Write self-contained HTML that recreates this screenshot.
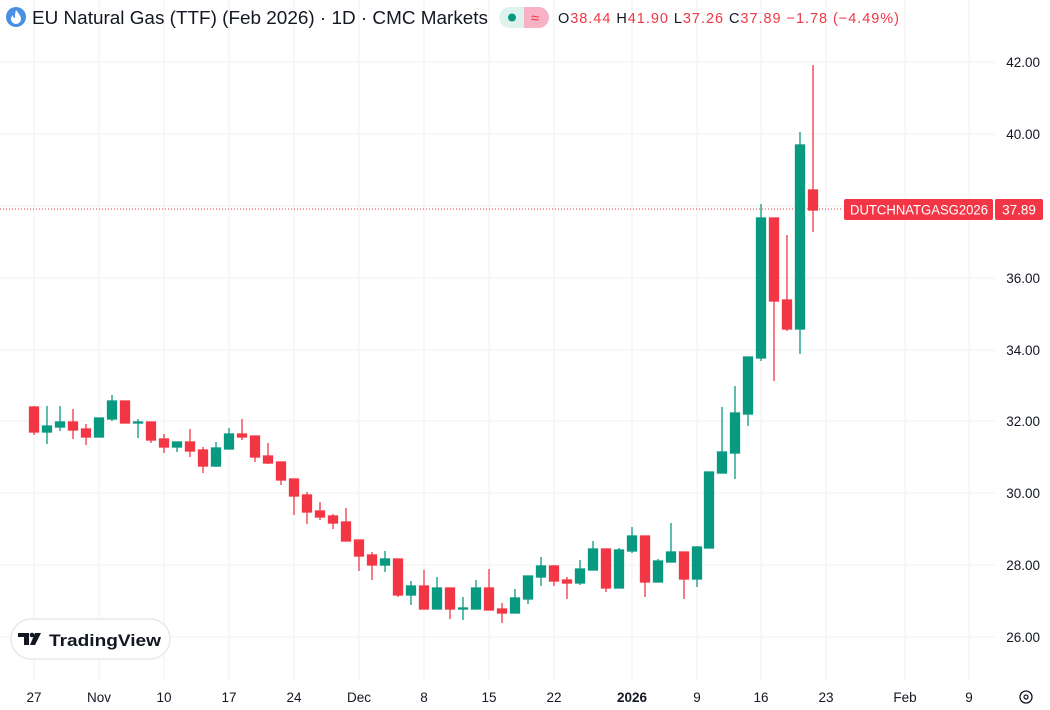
<!DOCTYPE html>
<html><head><meta charset="utf-8"><style>
body{margin:0;width:1050px;height:710px;background:#fff;overflow:hidden;font-family:"Liberation Sans",sans-serif}
svg{position:absolute;left:0;top:0}
</style></head><body>
<svg width="1050" height="710" xmlns="http://www.w3.org/2000/svg" font-family="Liberation Sans, sans-serif">
<g stroke="#f0f0f0" stroke-width="1">
<line x1="0" x2="995" y1="62" y2="62"/><line x1="0" x2="995" y1="134" y2="134"/><line x1="0" x2="995" y1="206" y2="206"/><line x1="0" x2="995" y1="278" y2="278"/><line x1="0" x2="995" y1="350" y2="350"/><line x1="0" x2="995" y1="421" y2="421"/><line x1="0" x2="995" y1="493" y2="493"/><line x1="0" x2="995" y1="565" y2="565"/><line x1="0" x2="995" y1="637" y2="637"/>
<line x1="34" x2="34" y1="0" y2="680"/><line x1="99" x2="99" y1="0" y2="680"/><line x1="164" x2="164" y1="0" y2="680"/><line x1="229" x2="229" y1="0" y2="680"/><line x1="294" x2="294" y1="0" y2="680"/><line x1="359" x2="359" y1="0" y2="680"/><line x1="424" x2="424" y1="0" y2="680"/><line x1="489" x2="489" y1="0" y2="680"/><line x1="554" x2="554" y1="0" y2="680"/><line x1="632" x2="632" y1="0" y2="680"/><line x1="697" x2="697" y1="0" y2="680"/><line x1="761" x2="761" y1="0" y2="680"/><line x1="826" x2="826" y1="0" y2="680"/><line x1="905" x2="905" y1="0" y2="680"/><line x1="969" x2="969" y1="0" y2="680"/>
</g>
<line x1="0" x2="843" y1="209" y2="209" stroke="#F23645" stroke-dasharray="1,2"/>
<g stroke-width="1.3">
<g stroke="#F23645" fill="#F23645">
<line x1="34" x2="34" y1="406" y2="435"/><rect x="29.5" width="9" y="407" height="25"/>
<line x1="73" x2="73" y1="409" y2="439"/><rect x="68.5" width="9" y="422" height="8"/>
<line x1="86" x2="86" y1="424" y2="445"/><rect x="81.5" width="9" y="429" height="8"/>
<rect x="120.5" width="9" y="401" height="22"/>
<line x1="151" x2="151" y1="422" y2="443"/><rect x="146.5" width="9" y="422" height="18"/>
<line x1="164" x2="164" y1="434" y2="453"/><rect x="159.5" width="9" y="439" height="8"/>
<line x1="190" x2="190" y1="429" y2="457"/><rect x="185.5" width="9" y="442" height="9"/>
<line x1="203" x2="203" y1="447" y2="473"/><rect x="198.5" width="9" y="450" height="16"/>
<line x1="242" x2="242" y1="419" y2="440"/><rect x="237.5" width="9" y="434" height="3"/>
<line x1="255" x2="255" y1="436" y2="462"/><rect x="250.5" width="9" y="436" height="21"/>
<line x1="268" x2="268" y1="443" y2="464"/><rect x="263.5" width="9" y="456" height="7"/>
<line x1="281" x2="281" y1="462" y2="485"/><rect x="276.5" width="9" y="462" height="18"/>
<line x1="294" x2="294" y1="479" y2="515"/><rect x="289.5" width="9" y="479" height="17"/>
<line x1="307" x2="307" y1="492" y2="524"/><rect x="302.5" width="9" y="495" height="17"/>
<line x1="320" x2="320" y1="502" y2="520"/><rect x="315.5" width="9" y="511" height="6"/>
<line x1="333" x2="333" y1="514" y2="529"/><rect x="328.5" width="9" y="516" height="7"/>
<line x1="346" x2="346" y1="508" y2="541"/><rect x="341.5" width="9" y="522" height="19"/>
<line x1="359" x2="359" y1="540" y2="571"/><rect x="354.5" width="9" y="540" height="16"/>
<line x1="372" x2="372" y1="552" y2="580"/><rect x="367.5" width="9" y="555" height="10"/>
<line x1="398" x2="398" y1="559" y2="597"/><rect x="393.5" width="9" y="559" height="36"/>
<line x1="424" x2="424" y1="570" y2="609"/><rect x="419.5" width="9" y="586" height="23"/>
<line x1="450" x2="450" y1="588" y2="619"/><rect x="445.5" width="9" y="588" height="21"/>
<line x1="489" x2="489" y1="569" y2="610"/><rect x="484.5" width="9" y="588" height="22"/>
<line x1="502" x2="502" y1="603" y2="623"/><rect x="497.5" width="9" y="609" height="4"/>
<line x1="554" x2="554" y1="565" y2="586"/><rect x="549.5" width="9" y="566" height="15"/>
<line x1="567" x2="567" y1="577" y2="599"/><rect x="562.5" width="9" y="580" height="3"/>
<line x1="606" x2="606" y1="549" y2="592"/><rect x="601.5" width="9" y="549" height="39"/>
<line x1="645" x2="645" y1="536" y2="597"/><rect x="640.5" width="9" y="536" height="46"/>
<line x1="684" x2="684" y1="552" y2="599"/><rect x="679.5" width="9" y="552" height="27"/>
<line x1="774" x2="774" y1="218" y2="381"/><rect x="769.5" width="9" y="218" height="83"/>
<line x1="787" x2="787" y1="235" y2="331"/><rect x="782.5" width="9" y="300" height="29"/>
<line x1="813" x2="813" y1="65" y2="232"/><rect x="808.5" width="9" y="190" height="20"/>
</g>
<g stroke="#089981" fill="#089981">
<line x1="47" x2="47" y1="406" y2="444"/><rect x="42.5" width="9" y="426" height="6"/>
<line x1="60" x2="60" y1="406" y2="431"/><rect x="55.5" width="9" y="422" height="5"/>
<rect x="94.5" width="9" y="418" height="19"/>
<line x1="112" x2="112" y1="395" y2="421"/><rect x="107.5" width="9" y="401" height="18"/>
<line x1="138" x2="138" y1="419" y2="438"/><rect x="133.5" width="9" y="422" height="1"/>
<line x1="177" x2="177" y1="442" y2="452"/><rect x="172.5" width="9" y="442" height="5"/>
<line x1="216" x2="216" y1="442" y2="467"/><rect x="211.5" width="9" y="448" height="18"/>
<line x1="229" x2="229" y1="428" y2="449"/><rect x="224.5" width="9" y="434" height="15"/>
<line x1="385" x2="385" y1="551" y2="572"/><rect x="380.5" width="9" y="559" height="6"/>
<line x1="411" x2="411" y1="581" y2="605"/><rect x="406.5" width="9" y="586" height="9"/>
<line x1="437" x2="437" y1="577" y2="609"/><rect x="432.5" width="9" y="588" height="21"/>
<line x1="463" x2="463" y1="597" y2="620"/><rect x="458.5" width="9" y="608" height="1"/>
<line x1="476" x2="476" y1="580" y2="609"/><rect x="471.5" width="9" y="588" height="21"/>
<line x1="515" x2="515" y1="589" y2="613"/><rect x="510.5" width="9" y="598" height="15"/>
<line x1="528" x2="528" y1="576" y2="604"/><rect x="523.5" width="9" y="576" height="23"/>
<line x1="541" x2="541" y1="557" y2="586"/><rect x="536.5" width="9" y="566" height="11"/>
<line x1="580" x2="580" y1="560" y2="585"/><rect x="575.5" width="9" y="569" height="14"/>
<line x1="593" x2="593" y1="541" y2="570"/><rect x="588.5" width="9" y="549" height="21"/>
<line x1="619" x2="619" y1="548" y2="588"/><rect x="614.5" width="9" y="550" height="38"/>
<line x1="632" x2="632" y1="527" y2="553"/><rect x="627.5" width="9" y="536" height="15"/>
<line x1="658" x2="658" y1="559" y2="582"/><rect x="653.5" width="9" y="561" height="21"/>
<line x1="671" x2="671" y1="523" y2="562"/><rect x="666.5" width="9" y="552" height="10"/>
<line x1="697" x2="697" y1="546" y2="587"/><rect x="692.5" width="9" y="547" height="32"/>
<rect x="704.5" width="9" y="472" height="76"/>
<line x1="722" x2="722" y1="407" y2="473"/><rect x="717.5" width="9" y="452" height="21"/>
<line x1="735" x2="735" y1="386" y2="479"/><rect x="730.5" width="9" y="413" height="40"/>
<line x1="748" x2="748" y1="357" y2="426"/><rect x="743.5" width="9" y="357" height="57"/>
<line x1="761" x2="761" y1="204" y2="361"/><rect x="756.5" width="9" y="218" height="140"/>
<line x1="800" x2="800" y1="132" y2="354"/><rect x="795.5" width="9" y="145" height="184"/>
</g>
</g>
<g font-size="13.5" fill="#131722" text-anchor="end">
<text x="1040" y="67">42.00</text><text x="1040" y="139">40.00</text><text x="1040" y="283">36.00</text><text x="1040" y="355">34.00</text><text x="1040" y="426">32.00</text><text x="1040" y="498">30.00</text><text x="1040" y="570">28.00</text><text x="1040" y="642">26.00</text>
</g>
<rect x="844" y="199" width="149" height="21" rx="2" fill="#F23645"/>
<rect x="995" y="199" width="48" height="21" rx="2" fill="#F23645"/>
<text x="850" y="214.5" font-size="13.5" fill="#fff" textLength="138" lengthAdjust="spacingAndGlyphs">DUTCHNATGASG2026</text>
<text x="1019" y="214.5" font-size="13.5" fill="#fff" text-anchor="middle">37.89</text>
<g font-size="13.5" fill="#131722" text-anchor="middle">
<text x="34" y="702">27</text><text x="99" y="702">Nov</text><text x="164" y="702">10</text><text x="229" y="702">17</text><text x="294" y="702">24</text><text x="359" y="702">Dec</text><text x="424" y="702">8</text><text x="489" y="702">15</text><text x="554" y="702">22</text><text x="632" y="702" font-weight="bold">2026</text><text x="697" y="702">9</text><text x="761" y="702">16</text><text x="826" y="702">23</text><text x="905" y="702">Feb</text><text x="969" y="702">9</text>
</g>
<circle cx="1026" cy="697" r="6" fill="none" stroke="#131722" stroke-width="1.3"/><circle cx="1026" cy="697" r="2" fill="none" stroke="#131722" stroke-width="1.2"/>
<rect x="11" y="619" width="159" height="40" rx="20" fill="#fff" stroke="#e8e8e8" stroke-width="1.5"/>
<path d="M18 633h11v12h-5v-8h-6z" fill="#131722"/><circle cx="32" cy="635" r="2.3" fill="#131722"/><path d="M35 633h6l-6 12h-5z" fill="#131722"/>
<text x="49" y="646" font-size="17" font-weight="bold" fill="#131722" textLength="112" lengthAdjust="spacingAndGlyphs">TradingView</text>
<circle cx="16" cy="17" r="10" fill="#4a90e2"/><path d="M16 10c3 4 5 6 5 9a5 5 0 0 1-10 0c0-2 1-3 2-4c0 2 1 3 2 3c0-3 0-5 1-8z" fill="#fff"/>
<text x="32" y="24" font-size="18.5" fill="#131722" textLength="456" lengthAdjust="spacingAndGlyphs">EU Natural Gas (TTF) (Feb 2026) · 1D · CMC Markets</text>
<rect x="499" y="7" width="50" height="21" rx="10.5" fill="#def2ee"/>
<path d="M524 7h14.5a10.5 10.5 0 0 1 0 21h-14.5z" fill="#f7b2c6"/>
<circle cx="512" cy="17.5" r="4" fill="#089981"/>
<text x="535" y="23" font-size="15" fill="#F23645" text-anchor="middle">≈</text>
<text x="558" y="23" font-size="14.5" fill="#F23645" textLength="341" lengthAdjust="spacing"><tspan fill="#131722">O</tspan>38.44  <tspan fill="#131722">H</tspan>41.90  <tspan fill="#131722">L</tspan>37.26  <tspan fill="#131722">C</tspan>37.89  −1.78 (−4.49%)</text>
</svg>
</body></html>
